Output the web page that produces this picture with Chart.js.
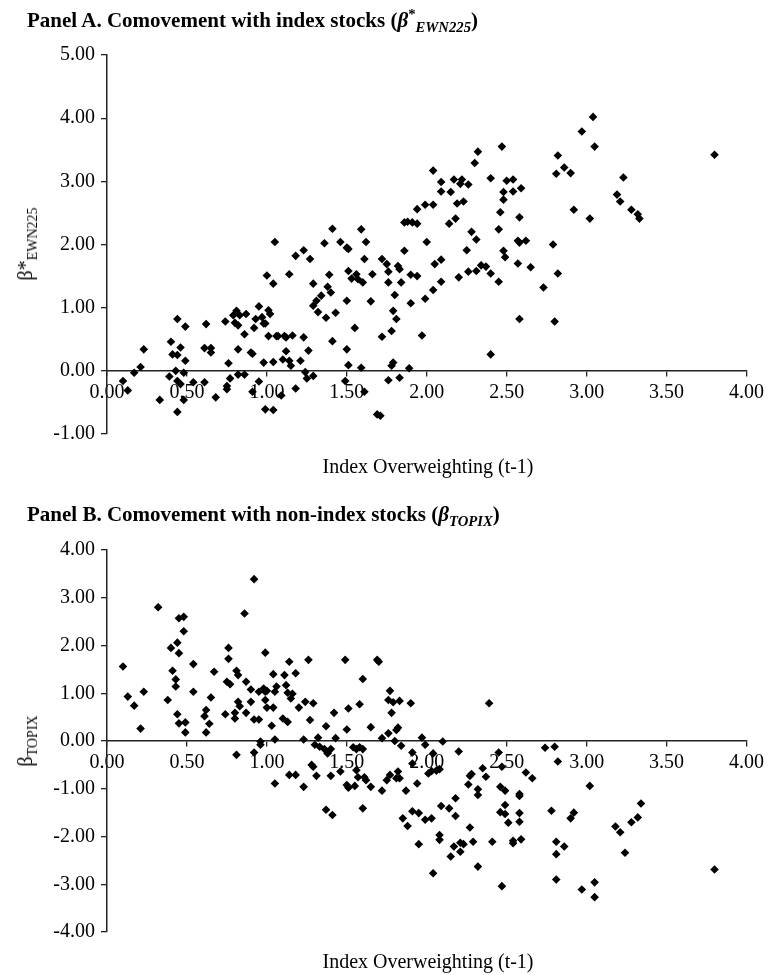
<!DOCTYPE html>
<html>
<head>
<meta charset="utf-8">
<script src="https://cdn.jsdelivr.net/npm/chart.js@4.4.0/dist/chart.umd.min.js"></script>
<style>
body { margin: 0; background: #fff; width: 769px; height: 975px; position: relative; overflow: hidden; font-family: "Liberation Serif", "Times New Roman", serif; color: #000; }
canvas { position: absolute; left: 0; }
.ttl { position: absolute; left: 27px; font-weight: bold; font-size: 21px; line-height: 21px; white-space: nowrap; z-index: 2; }
.xt { position: absolute; left: 107px; width: 642px; text-align: center; font-size: 20px; line-height: 20px; }
.yt { position: absolute; font-size: 20px; line-height: 20px; white-space: nowrap; transform: translate(-50%, -50%) rotate(-90deg); }
sub, sup { font-size: 70%; line-height: 0; }
</style>
</head>
<body>

<div class="ttl" style="top:10px">Panel A. Comovement with index stocks (<i>&beta;</i><sup>*</sup><sub><i>EWN225</i></sub>)</div>
<canvas id="chartA" width="769" height="480" style="top:0"></canvas>
<div class="yt" style="left:25px; top:244px">&beta;*<sub>EWN225</sub></div>
<div class="xt" style="top:456px">Index Overweighting (t-1)</div>

<div class="ttl" style="top:504px">Panel B. Comovement with non-index stocks (<i>&beta;</i><sub><i>TOPIX</i></sub>)</div>
<canvas id="chartB" width="769" height="485" style="top:490px"></canvas>
<div class="yt" style="left:25px; top:741px">&beta;<sub>TOPIX</sub></div>
<div class="xt" style="top:951px">Index Overweighting (t-1)</div>

<script>
// ----- DATA: Panel A (index overweighting vs beta* EWN225) -----
const overweightA = [
  0.10, 0.13, 0.17, 0.21, 0.23, 0.33, 0.40, 0.44, 0.41, 0.46, 0.44, 0.39, 0.43, 0.44, 0.46,
  0.48, 0.49, 0.49, 0.44, 0.48, 0.54, 0.61, 0.61, 0.62, 0.65, 0.65, 0.68, 0.74, 0.76, 0.75,
  0.75, 0.77, 0.79, 0.81, 0.80, 0.82, 0.83, 0.82, 0.82, 0.86, 0.86, 0.87, 0.90, 0.91, 0.91,
  0.95, 0.92, 0.93, 0.95, 0.97, 0.98, 0.99, 0.98, 0.99, 1.00, 1.01, 1.02, 1.01, 1.04, 1.04,
  1.04, 1.05, 1.06, 1.07, 1.09, 1.10, 1.11, 1.12, 1.12, 1.14, 1.14, 1.15, 1.16, 1.18, 1.18,
  1.21, 1.23, 1.23, 1.24, 1.25, 1.26, 1.27, 1.29, 1.29, 1.29, 1.31, 1.32, 1.34, 1.36, 1.37,
  1.38, 1.39, 1.40, 1.41, 1.43, 1.46, 1.49, 1.50, 1.50, 1.51, 1.51, 1.50, 1.51, 1.53, 1.55,
  1.56, 1.57, 1.59, 1.60, 1.61, 1.62, 1.61, 1.65, 1.66, 1.59, 1.69, 1.71, 1.72, 1.72, 1.75,
  1.76, 1.76, 1.78, 1.76, 1.79, 1.79, 1.80, 1.78, 1.81, 1.41,
  1.83, 1.86, 1.82, 1.83, 1.84, 1.90, 1.94, 1.90, 1.89, 1.97, 1.99, 2.00, 2.04, 2.05, 2.09,
  2.09, 2.20, 2.25, 2.26, 2.28, 2.31, 2.31, 2.34, 2.37, 2.40, 2.40, 2.45, 2.45, 2.48, 2.49,
  2.57, 2.58, 2.62, 2.57, 2.58, 2.65, 2.73, 2.79, 2.82, 2.80,
  1.86, 1.88, 1.91, 1.94, 1.94, 1.99, 2.04, 2.04, 2.09, 2.09, 2.15, 2.14, 2.18, 2.17, 2.22,
  2.21, 2.26, 2.19, 2.23, 2.30, 2.32, 2.40, 2.47, 2.50, 2.54, 2.48, 2.54, 2.59, 2.48, 2.46,
  2.58, 2.82, 2.86, 2.90, 2.81, 2.92, 2.97, 3.04, 3.05, 3.02, 3.23, 3.19, 3.21, 3.28, 3.32,
  3.33, 3.80
];
const betaEWN = [
  -0.16, -0.31, -0.03, 0.06, 0.34, -0.46, 0.46, 0.82, 0.26, 0.37, 0.25, -0.09, 0.00, -0.16, -0.21,
  -0.03, 0.16, 0.70, -0.65, -0.46, -0.18, -0.18, 0.36, 0.74, 0.36, 0.29, -0.42, 0.78, 0.12, -0.24,
  -0.29, -0.12, 0.88, 0.95, 0.76, 0.72, 0.88, 0.34, -0.06, -0.06, 0.58, 0.90, 0.29, 0.27, -0.33,
  -0.17, 0.68, 0.82, 1.02, 0.85, 0.75, 0.75, 0.13, -0.61, 1.51, 0.96, 0.90, 0.55, -0.62, 1.38,
  0.14, 2.04, 0.55, 0.55, -0.39, 0.18, 0.55, 0.53, 0.31, 1.53, 0.16, 0.08, 0.56, -0.28, 1.82,
  0.16, 1.91, 0.53, -0.02, -0.12, 0.32, 1.77, -0.08, 1.38, 1.03, 1.11, 0.93, 1.19, 2.02, 0.84,
  1.33, 1.52, 1.24, 0.47, 0.92, 2.04, -0.16, 0.34, 1.11, 1.58, 0.09, 1.95, 1.93, 1.46, 0.68,
  1.53, 1.45, 0.05, 1.40, 1.77, 2.04, -0.33, 1.10, 1.53, 2.24, -0.69, -0.71, 0.54, 1.77, 1.69,
  1.57, 1.40, 0.08, -0.15, 0.13, 0.95, 1.20, 0.63, 0.82, 2.25,
  -0.11, 1.90, 1.66, 1.61, 1.40, 1.52, 1.50, 1.07, 0.04, 0.56, 1.14, 2.04, 1.28, 1.69, 1.76,
  1.41, 1.48, 1.91, 1.57, 2.20, 2.08, 1.58, 1.67, 1.65, 1.54, 0.26, 1.41, 2.24, 1.90, 1.80,
  2.06, 2.03, 2.06, 1.70, 0.82, 1.64, 1.32, 2.00, 1.54, 0.78,
  2.35, 2.36, 2.35, 2.33, 2.56, 2.63, 2.63, 3.17, 2.99, 2.84, 2.83, 2.33, 2.41, 3.03, 3.03,
  2.96, 2.95, 2.65, 2.68, 3.29, 3.47, 3.05, 3.55, 3.01, 3.03, 2.83, 2.84, 2.89, 2.71, 2.51,
  2.43, 3.41, 3.22, 3.13, 3.12, 2.55, 3.79, 4.02, 3.55, 2.41, 3.06, 2.79, 2.68, 2.55, 2.48,
  2.41, 3.42
];

// ----- DATA: Panel B (index overweighting vs beta TOPIX) -----
const overweightB = [
  0.10, 0.32, 0.40, 0.44, 0.45, 0.45, 0.48, 0.48, 0.41, 0.43, 0.54, 0.67, 0.76, 0.76, 0.81,
  0.82, 0.86, 0.92, 0.99, 1.04, 1.11, 1.14, 1.18, 1.26, 1.49, 1.60, 1.69, 1.70,
  0.13, 0.17, 0.23, 0.21, 0.38, 0.43, 0.44, 0.45, 0.49, 0.49, 0.54, 0.61, 0.62, 0.65, 0.64,
  0.62, 0.74, 0.75, 0.77, 0.80, 0.80, 0.82, 0.83, 0.81, 0.87, 0.87, 0.90, 0.90, 0.92, 0.95,
  0.92, 0.96, 0.96, 0.95, 0.98, 0.99, 0.99, 1.00, 1.00, 1.03, 1.04, 1.06, 1.05, 1.05, 1.05,
  1.12, 1.13, 1.10, 1.13, 1.15, 1.16, 1.14, 1.18, 1.20, 1.24, 1.23, 1.23, 1.27, 1.29, 1.28,
  1.29, 1.31, 1.30, 1.32, 1.33, 1.37, 1.36, 1.38, 1.40, 1.42, 1.43, 1.40, 1.37, 1.41, 1.46,
  1.50, 1.51, 1.51, 1.50, 1.54, 1.55, 1.56, 1.56, 1.57, 1.58, 1.60, 1.58, 1.61, 1.62, 1.60,
  1.65, 1.65, 1.72, 1.72, 1.76, 1.77, 1.76, 1.78, 1.79, 1.80, 1.81, 1.75, 1.77, 1.81,
  1.83, 1.90, 1.82, 1.84, 1.91, 1.91, 1.97, 1.99, 2.04, 2.10, 2.20, 2.39, 2.45, 2.47, 2.74,
  2.80, 2.82, 1.82, 1.83, 1.87, 1.94, 2.01, 2.03, 2.06, 2.08, 1.91, 1.95, 1.99, 2.03, 1.85,
  1.88, 1.95, 2.04, 2.09, 2.14, 2.18, 2.18, 2.08, 2.08, 2.17, 2.15, 2.21, 2.23, 2.21, 2.27,
  2.29, 2.32, 2.26, 2.27, 2.28, 2.32, 2.32, 2.35, 2.37, 2.41, 2.46, 2.49, 2.49, 2.46, 2.49,
  2.51, 2.54, 2.54, 2.47, 2.58, 2.58, 2.58, 2.58, 2.59, 2.62, 2.66, 2.78, 2.81, 2.81, 2.86,
  2.81, 2.90, 2.92, 3.02, 2.97, 3.05, 3.05, 3.18, 3.21, 3.24, 3.28, 3.32, 3.34, 3.80
];
const betaTOPIX = [
  1.56, 2.80, 1.95, 2.06, 1.84, 2.57, 2.60, 2.30, 1.47, 1.29, 1.61, 1.45, 1.95, 1.72, 1.47,
  1.38, 2.67, 3.39, 1.85, 1.40, 1.38, 1.66, 1.42, 1.70, 1.70, 1.30, 1.70, 1.66,
  0.93, 0.74, 1.03, 0.26, 0.86, 1.14, 0.56, 0.37, 0.39, 0.18, 1.03, 0.52, 0.65, 0.91, 0.36,
  0.18, 0.56, 1.24, 1.19, 0.59, 0.47, 0.82, 0.73, -0.29, 1.24, 0.59, 1.08, 0.82, 0.45, 0.45,
  -0.24, -0.01, -0.08, 1.03, 1.10, 1.03, 0.86, 1.05, 0.70, 0.32, 0.70, 1.14, 1.03, 0.03, -0.89,
  1.17, 1.01, 0.47, 0.40, 0.89, 0.99, -0.71, -0.71, 0.70, 0.82, 0.03, -0.96, 0.44, 0.79, -0.50,
  -0.54, -0.73, -0.08, 0.07, -0.12, 0.31, -0.17, -0.26, -0.17, 0.59, 0.06, -0.73, -1.44, -1.55, -0.64,
  -0.92, -0.98, 0.68, 0.24, -0.13, -0.94, -0.17, -0.61, -0.76, -0.13, -0.17, 0.77, -0.76, -0.82, -1.41,
  -0.96, 0.29, -1.04, 0.06, 0.16, 1.05, 0.86, 0.59, 0.81, 0.00, 0.23, -0.82, -0.71, -0.78,
  0.84, 0.79, 0.28, -0.10, -0.24, -0.47, 0.07, -0.08, -0.26, -0.01, -0.22, 0.79, -0.24, -0.54, -0.14,
  -0.12, -0.43, -0.64, -0.78, -1.04, -0.89, -0.68, -0.63, -0.62, -0.59, -1.47, -1.51, -1.65, -1.62, -1.62,
  -1.78, -2.16, -2.77, -1.36, -1.41, -1.20, -1.57, -1.97, -2.07, -2.21, -2.42, -2.13, -2.16, -2.32, -1.81,
  -2.11, -2.63, -0.91, -0.73, -0.69, -1.01, -1.13, -0.57, -0.75, -2.11, -0.96, -1.04, -1.34, -1.49, -1.53,
  -1.71, -2.09, -2.14, -3.04, -1.11, -1.15, -1.51, -1.69, -2.06, -0.66, -0.78, -1.46, -2.11, -2.37, -2.21,
  -2.90, -1.62, -1.50, -0.94, -3.11, -2.96, -3.27, -1.79, -1.91, -2.34, -1.70, -1.60, -1.31, -2.69
];

// ----- AXIS TICKS -----
const xTicks = [0, 0.5, 1, 1.5, 2, 2.5, 3, 3.5, 4];
const yTicksA = [-1, 0, 1, 2, 3, 4, 5];
const yTicksB = [-4, -3, -2, -1, 0, 1, 2, 3, 4];

const FONT = "'Liberation Serif', 'Times New Roman', serif";

function makeScatter(id, xs, ys, yTicks, padTop, padBottom) {
    const points = xs.map((x, i) => ({ x: x, y: ys[i] }));
    return new Chart(document.getElementById(id), {
        type: "scatter",
        data: {
            datasets: [{
                data: points,
                pointStyle: "rectRot",
                pointRadius: 4.3,
                pointBackgroundColor: "#000",
                pointBorderWidth: 0
            }]
        },
        options: {
            responsive: false,
            animation: false,
            layout: { padding: { left: 0, right: 20, top: padTop, bottom: padBottom } },
            plugins: { legend: { display: false }, tooltip: { enabled: false } },
            scales: {
                x: {
                    type: "linear",
                    position: { y: 0 },
                    min: xTicks[0],
                    max: xTicks[xTicks.length - 1],
                    afterBuildTicks: s => { s.ticks = xTicks.map(v => ({ value: v })); },
                    ticks: {
                        callback: v => Number(v).toFixed(2),
                        font: { family: FONT, size: 20 },
                        color: "#000",
                        padding: 5,
                        maxRotation: 0,
                        autoSkip: false
                    },
                    grid: { drawOnChartArea: false, tickLength: 5, color: "#222", lineWidth: 1.3 },
                    border: { color: "#222", width: 1.5 }
                },
                y: {
                    position: "left",
                    min: yTicks[0],
                    max: yTicks[yTicks.length - 1],
                    afterFit: s => { s.width = 107; },
                    afterBuildTicks: s => { s.ticks = yTicks.map(v => ({ value: v })); },
                    ticks: {
                        callback: v => Number(v).toFixed(2),
                        font: { family: FONT, size: 20 },
                        color: "#000",
                        padding: 6
                    },
                    grid: { drawOnChartArea: false, tickLength: 6, color: "#222", lineWidth: 1.3 },
                    border: { color: "#222", width: 1.5 }
                }
            }
        }
    });
}

makeScatter("chartA", overweightA, betaEWN, yTicksA, 55, 46);
makeScatter("chartB", overweightB, betaTOPIX, yTicksB, 60, 43);
</script>
</body>
</html>
